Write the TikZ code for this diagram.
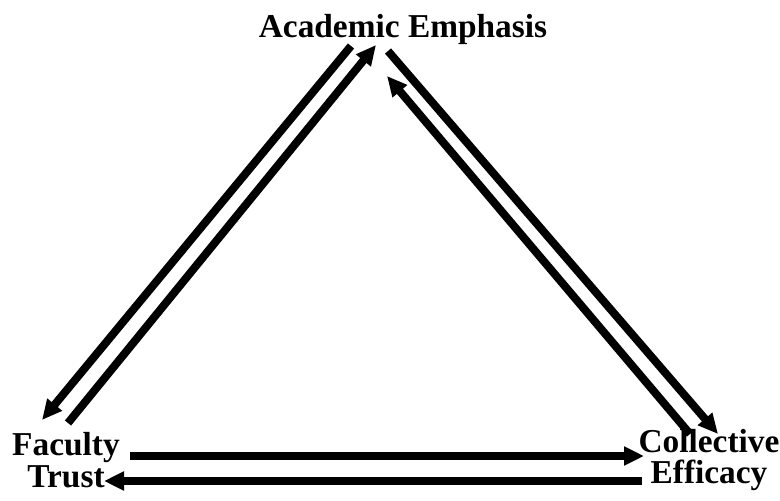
\documentclass[tikz,border=0pt]{standalone}
\usepackage{fontspec}
\setmainfont{Liberation Serif}
\usetikzlibrary{arrows.meta}
\begin{document}
\begin{tikzpicture}[x=1bp,y=-1bp,
  lbl/.style={font=\fontsize{33.5}{34}\selectfont\bfseries, inner sep=0pt, align=center},
  conn/.style={line width=8bp, -{Triangle[length=20bp,width=18bp]}}]
\useasboundingbox (0,0) rectangle (780,501);
\node[lbl] (ae) at (403,29) {Academic Emphasis};
\node[lbl] (ft) at (66,460) {Faculty\\[-2bp]Trust};
\node[lbl] (ce) at (709,460) {Collective\\[-2bp]Efficacy};
% endpoints
\coordinate (a1) at (351,46);
\coordinate (a2) at (42,420);
\coordinate (b1) at (68,423);
\coordinate (b2) at (376,45);
\coordinate (c1) at (388,51);
\coordinate (c2) at (718,434);
\coordinate (d1) at (690,434);
\coordinate (d2) at (387,76);
\coordinate (e1) at (130,456);
\coordinate (e2) at (644,456);
\coordinate (f1) at (642,481);
\coordinate (f2) at (104,481);
\draw[conn] (a1) -- (a2);
\draw[conn] (b1) -- (b2);
\draw[conn] (c1) -- (c2);
\draw[conn] (d1) -- (d2);
\draw[conn] (e1) -- (e2);
\draw[conn] (f1) -- (f2);
\end{tikzpicture}
\end{document}
